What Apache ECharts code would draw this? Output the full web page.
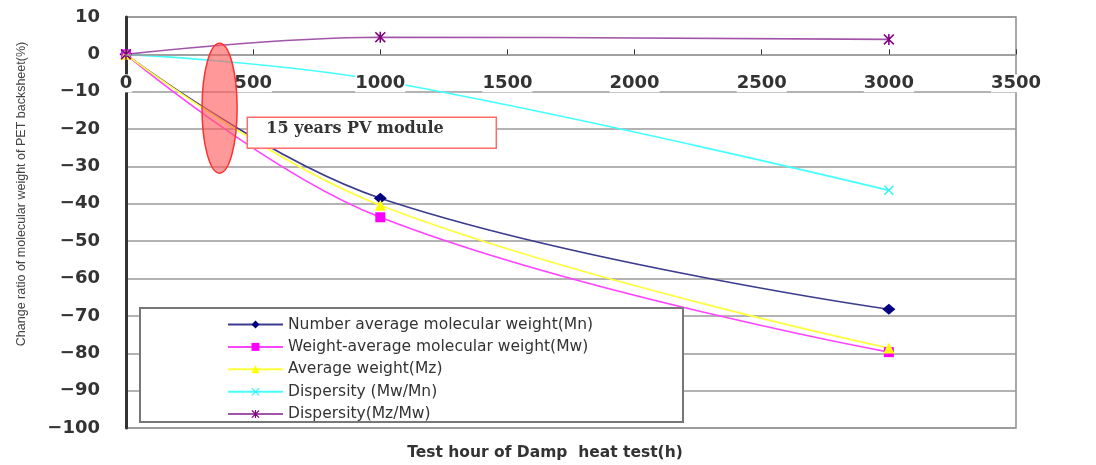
<!DOCTYPE html>
<html>
<head>
<meta charset="utf-8">
<script src="https://cdn.jsdelivr.net/npm/echarts@6/dist/echarts.min.js"></script>
<style>html,body{margin:0;padding:0;background:#fff}#c{width:1096px;height:465px}</style>
</head>
<body>
<div id="c"></div>
<script>
const hours = [0, 1000, 3000];
const mnValues = [0, -38.5, -68.2];
const mwValues = [0, -43.6, -79.7];
const mzValues = [0, -40.4, -78.6];
const mwMnValues = [0, -7.0, -36.4];
const mzMwValues = [0, 4.6, 4.0];
const seriesNames = [
  'Number average molecular weight(Mn)',
  'Weight-average molecular weight(Mw)',
  'Average weight(Mz)',
  'Dispersity (Mw/Mn)',
  'Dispersity(Mz/Mw)'
];
const xTicks = [0, 500, 1000, 1500, 2000, 2500, 3000, 3500];
const yTicks = [10, 0, -10, -20, -30, -40, -50, -60, -70, -80, -90, -100];
const xAxisTitle = 'Test hour of Damp  heat test(h)';
const yAxisTitle = 'Change ratio of molecular weight of PET backsheet(%)';
const noteText = '15 years PV module';

const pairs = v => hours.map((h, i) => [h, v[i]]);
const crossPath = 'path://M0,1L1,0L5,4L9,0L10,1L6,5L10,9L9,10L5,6L1,10L0,9L4,5Z';
const starPath = 'path://M0,1L1,0L5,4L9,0L10,1L6,5L10,9L9,10L5,6L1,10L0,9L4,5Z M4.3,0L5.7,0L5.7,10L4.3,10Z';

const chart = echarts.init(document.getElementById('c'), null, {renderer: 'canvas'});
const labelFont = {fontFamily: 'DejaVu Sans', fontWeight: 'bold', fontSize: 18, color: '#333'};

function mk(name, vals, symbol, size, lineColor, markColor) {
  return {
    name: name, type: 'line', smooth: 0.4, data: pairs(vals),
    symbol: symbol, symbolSize: size, showSymbol: true,
    lineStyle: {color: lineColor, width: 1.6},
    itemStyle: {color: markColor},
    emphasis: {disabled: true}, z: 2
  };
}

const option = {
  animation: false,
  backgroundColor: '#fff',
  grid: {left: 126, right: 80, top: 17, bottom: 37, show: true, borderColor: '#8c8c8c', borderWidth: 1.5, backgroundColor: '#fff'},
  xAxis: {
    type: 'value', position: 'top', offset: 0, min: xTicks[0], max: xTicks[xTicks.length - 1], interval: 500, z: 5,
    axisLine: {onZero: false, lineStyle: {color: '#9a9a9a', width: 1.5}},
    axisTick: {show: true, inside: false, length: 5, lineStyle: {color: '#333', width: 1}},
    axisLabel: Object.assign({inside: true, margin: 20, showMinLabel: true, showMaxLabel: true,
      formatter: v => String(v), backgroundColor: '#fff'}, labelFont),
    splitLine: {show: false}
  },
  yAxis: {
    type: 'value', min: yTicks[yTicks.length - 1], max: yTicks[0], interval: 10,
    axisLine: {show: true, onZero: false, lineStyle: {color: '#333', width: 3}},
    axisTick: {show: false},
    axisLabel: Object.assign({margin: 26, formatter: v => String(v).replace('-', '\u2212')}, labelFont),
    splitLine: {lineStyle: {color: '#9a9a9a', width: 1.5}}
  },
  legend: {
    orient: 'vertical', left: 222, top: 311.5, z: 60,
    itemWidth: 55, itemHeight: 10, itemGap: 6.4,
    textStyle: {fontFamily: 'DejaVu Sans', fontSize: 15.5, color: '#333'},
    data: seriesNames, selectedMode: false
  },
  series: [
    mk(seriesNames[0], mnValues, 'diamond', [13, 11], '#3c3c8e', '#000080'),
    mk(seriesNames[1], mwValues, 'rect', 10, '#ff44ff', '#ff00ff'),
    mk(seriesNames[2], mzValues, 'triangle', 11, '#ffff3a', '#ffff00'),
    mk(seriesNames[3], mwMnValues, crossPath, 10, '#44ffff', '#33f0f0'),
    mk(seriesNames[4], mzMwValues, starPath, 11, '#a254a8', '#800080')
  ]
};
chart.setOption(option);

// move the top x axis down onto the y = 0 line
const topPx = chart.convertToPixel({yAxisIndex: 0}, yTicks[0]);
const zeroPx = chart.convertToPixel({yAxisIndex: 0}, 0);

const c = chart.convertToPixel({gridIndex: 0}, [368, -14.4]);
const c2 = chart.convertToPixel({gridIndex: 0}, [368 + 69, -14.4 - 17.4]);
const rx = c2[0] - c[0], ry = c2[1] - c[1];
const bx = chart.convertToPixel({gridIndex: 0}, [477, -21.0]);

chart.setOption({
  xAxis: {offset: -(zeroPx - topPx)},
  graphic: [
    {type: 'text', x: 22, y: 194, rotation: Math.PI / 2, z: 100,
      style: {text: yAxisTitle, fontFamily: 'Liberation Sans', fontSize: 12.5, fill: '#444', align: 'center', verticalAlign: 'middle'}},
    {type: 'text', x: 545, y: 453, z: 100,
      style: {text: xAxisTitle, fontFamily: 'DejaVu Sans', fontWeight: 'bold', fontSize: 15.5, fill: '#333', align: 'center', verticalAlign: 'middle'}},
    {type: 'rect', z: 50, shape: {x: 140, y: 308, width: 543, height: 114},
      style: {fill: '#fff', stroke: '#777', lineWidth: 2}},
    {type: 'ellipse', z: 100, shape: {cx: c[0], cy: c[1], rx: rx, ry: ry},
      style: {fill: 'rgba(255,90,90,0.62)', stroke: '#ff3030', lineWidth: 1.5}},
    {type: 'rect', z: 100, shape: {x: bx[0], y: bx[1] - 15.5, width: 249, height: 31},
      style: {fill: '#fff', stroke: '#ff6b6b', lineWidth: 1.5}},
    {type: 'text', z: 101, x: bx[0] + 19, y: bx[1] - 4,
      style: {text: noteText, fontFamily: 'DejaVu Serif', fontWeight: 'bold', fontSize: 16, fill: '#333', align: 'left', verticalAlign: 'middle'}}
  ]
});
</script>
</body>
</html>
